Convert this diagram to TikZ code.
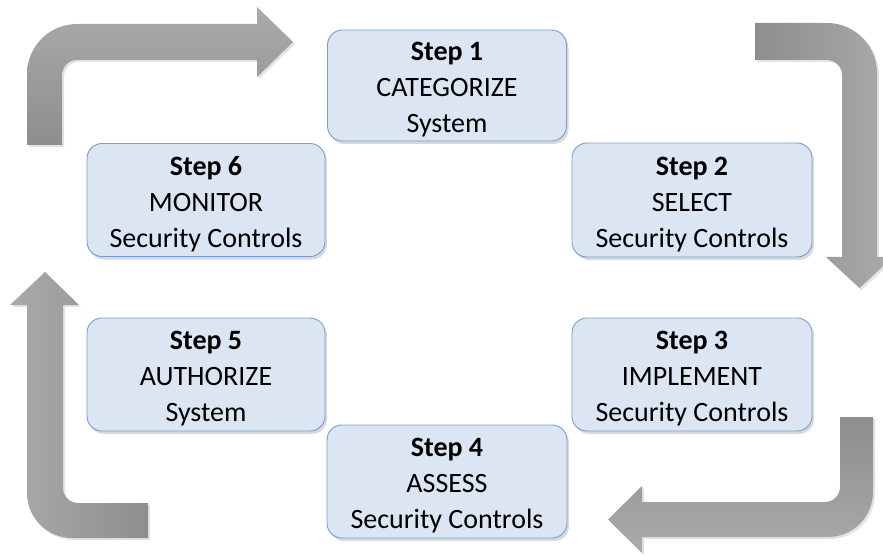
\documentclass[tikz,border=0pt]{standalone}
\usepackage{fontspec}
\setmainfont{Carlito}
\usetikzlibrary{shadows}
\definecolor{boxfill}{RGB}{220,230,242}
\definecolor{boxline}{RGB}{118,158,210}
\definecolor{arrlight}{RGB}{170,170,170}
\definecolor{arrdark}{RGB}{142,142,142}
\newcommand\steptitle[1]{\rule{0pt}{27pt}\textbf{Step #1}}
\tikzset{
  stepbox/.style={draw=boxline, fill=boxfill, line width=0.9pt, rounded corners=15pt,
    inner sep=0pt, align=center, font=\fontsize{28}{36}\selectfont,
    minimum width=239pt, minimum height=112pt,
    drop shadow={opacity=0.3, shadow xshift=2pt, shadow yshift=-3pt}},
  bigarrow/.style={drop shadow={opacity=0.22, shadow xshift=2pt, shadow yshift=-2pt}},
}
\begin{document}
\begin{tikzpicture}[x=1pt,y=1pt]
\useasboundingbox (0,0) rectangle (883,555);

% arrows
\path[bigarrow, top color=arrlight, bottom color=arrdark]
  (27,410) -- (27,481) arc[start angle=180, end angle=90, radius=50] -- (257,531) -- (257,548)
  -- (293,513) -- (257,478) -- (257,495) -- (77,495) arc[start angle=90, end angle=180, radius=15]
  -- (62,410) -- cycle;
\path[bigarrow, left color=arrdark, right color=arrlight]
  (755,532) -- (827,532) arc[start angle=90, end angle=0, radius=50] -- (877,298) -- (893,298)
  -- (859.5,267) -- (826,298) -- (842,298) -- (842,480) arc[start angle=0, end angle=90, radius=15]
  -- (755,495) -- cycle;
\path[bigarrow, top color=arrdark, bottom color=arrlight]
  (840,138) -- (873,138) -- (873,63) arc[start angle=0, end angle=-90, radius=45] -- (642,18)
  -- (642,2) -- (608,35.5) -- (642,69) -- (642,53) -- (825,53)
  arc[start angle=-90, end angle=0, radius=15] -- cycle;
\path[bigarrow, left color=arrlight, right color=arrdark]
  (148,17) -- (148,52) -- (78,52) arc[start angle=270, end angle=180, radius=15] -- (63,250)
  -- (79,250) -- (45,283) -- (10,250) -- (27,250) -- (27,62)
  arc[start angle=180, end angle=270, radius=45] -- cycle;

% boxes
\node[stepbox, minimum height=111pt] (s1) at (447,469.5) {\steptitle{1}\\CATEGORIZE\\System};
\node[stepbox, minimum width=240pt, minimum height=114pt] (s2) at (692,355) {\steptitle{2}\\SELECT\\Security Controls};
\node[stepbox, minimum width=240pt, minimum height=113pt] (s3) at (692,180.5) {\steptitle{3}\\IMPLEMENT\\Security Controls};
\node[stepbox, minimum width=240pt, minimum height=113pt] (s4) at (447,73.5) {\steptitle{4}\\ASSESS\\Security Controls};
\node[stepbox, minimum width=238pt, minimum height=113pt] (s5) at (206,180.5) {\steptitle{5}\\AUTHORIZE\\System};
\node[stepbox, minimum width=238pt, minimum height=113pt] (s6) at (206,355) {\steptitle{6}\\MONITOR\\Security Controls};
\end{tikzpicture}
\end{document}
